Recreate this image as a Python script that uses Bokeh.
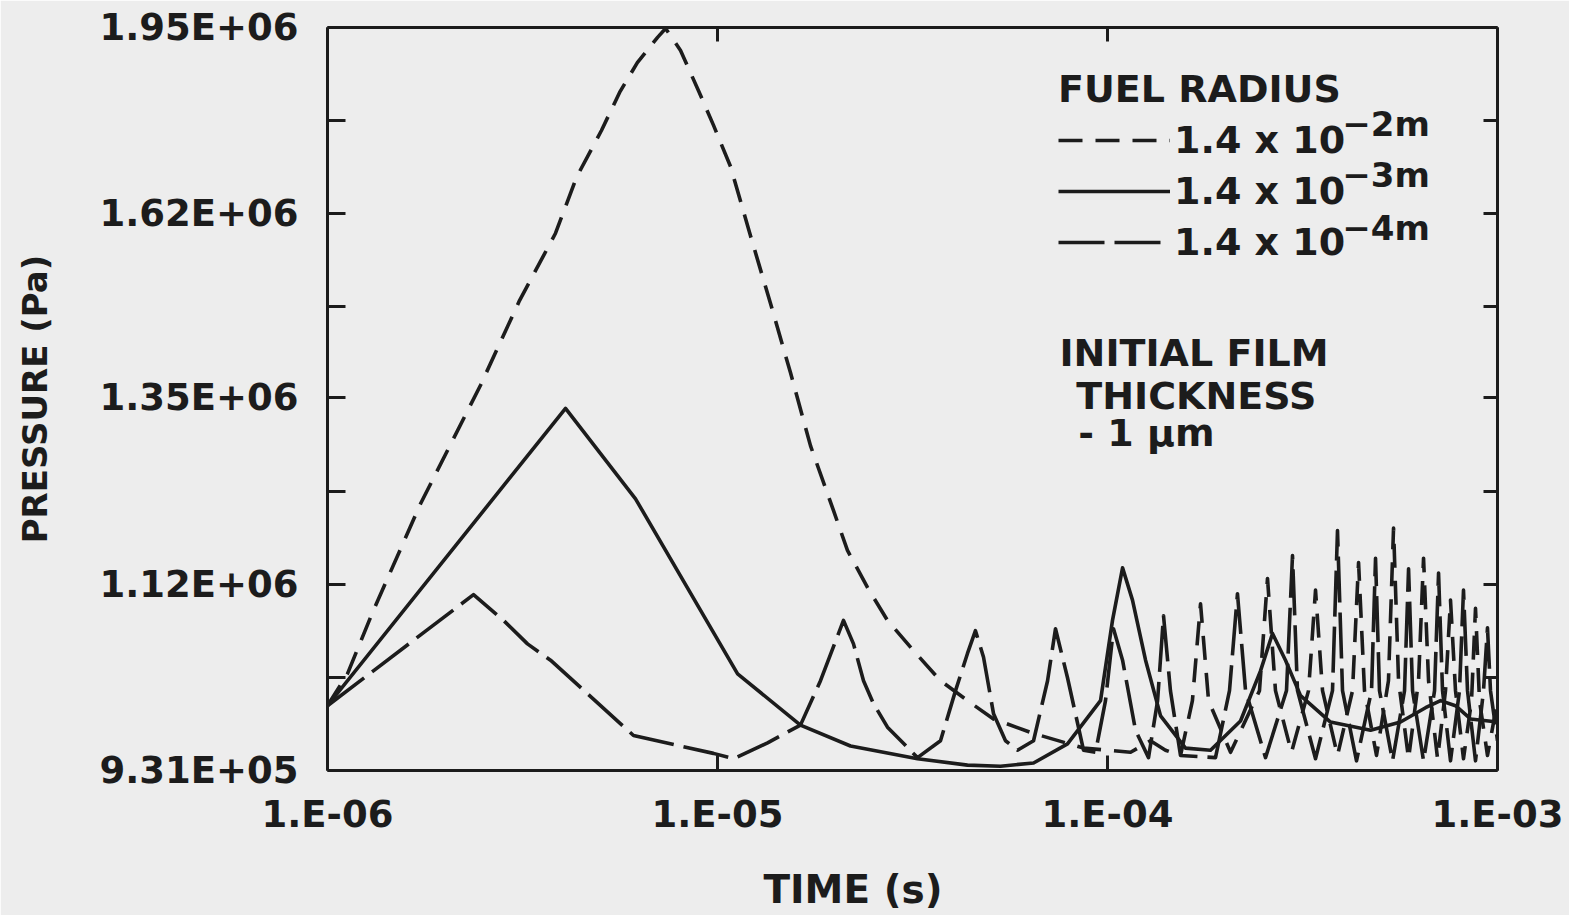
from bokeh.plotting import figure
from bokeh.models import (LogAxis, FixedTicker, Legend, LegendItem, Label, Range1d, Title)
from bokeh.embed import file_html
from bokeh.resources import INLINE

# Film pressure histories, time in s and pressure in Pa, one pair per fuel radius
time_r2 = [1.0e-6, 1.125e-6, 1.312e-6, 1.732e-6, 2.468e-6, 3.107e-6, 3.843e-6, 4.35e-6,
           5.04e-6, 5.61e-6, 6.23e-6, 7.02e-6, 7.36e-6, 8.04e-6, 8.94e-6, 9.77e-6,
           1.080e-5, 1.215e-5, 1.367e-5, 1.539e-5, 1.732e-5, 1.983e-5, 2.154e-5, 2.424e-5,
           2.728e-5, 3.181e-5, 3.73e-5, 4.375e-5, 5.10e-5, 6.46e-5, 8.68e-5, 1.146e-4,
           1.289e-4, 1.408e-4, 1.539e-4, 1.651e-4, 1.732e-4, 1.816e-4, 2.068e-4, 2.453e-4,
           2.572e-4, 2.696e-4, 2.963e-4, 3.277e-4, 3.415e-4, 3.559e-4, 3.888e-4, 4.249e-4,
           4.403e-4, 4.560e-4, 4.895e-4, 5.253e-4, 5.413e-4, 5.575e-4, 5.915e-4, 6.274e-4,
           6.462e-4, 6.656e-4, 7.019e-4, 7.357e-4, 7.577e-4, 7.804e-4, 8.181e-4, 8.578e-4,
           8.782e-4, 8.992e-4, 9.426e-4, 1.0e-3]
pres_r2 = [9.93e5, 1.025e6, 1.092e6, 1.214e6, 1.366e6, 1.486e6, 1.589e6, 1.680e6,
           1.760e6, 1.828e6, 1.883e6, 1.931e6, 1.948e6, 1.906e6, 1.831e6, 1.769e6,
           1.698e6, 1.585e6, 1.482e6, 1.383e6, 1.286e6, 1.206e6, 1.159e6, 1.117e6,
           1.081e6, 1.049e6, 1.018e6, 9.98e5, 9.80e5, 9.66e5, 9.52e5, 9.48e5,
           9.59e5, 9.50e5, 9.45e5, 9.98e5, 1.099e6, 9.98e5, 9.48e5, 1.008e6,
           1.127e6, 1.008e6, 9.48e5, 1.008e6, 1.114e6, 1.008e6, 9.45e5, 1.008e6,
           1.145e6, 1.008e6, 9.45e5, 1.018e6, 1.185e6, 1.018e6, 9.42e5, 1.018e6,
           1.150e6, 1.018e6, 9.42e5, 1.008e6, 1.103e6, 1.008e6, 9.42e5, 9.98e5,
           1.094e6, 9.98e5, 9.45e5, 9.98e5]

time_r3 = [1.0e-6, 4.077e-6, 6.163e-6, 1.126e-5, 1.632e-5, 2.193e-5, 3.257e-5, 4.375e-5,
           5.317e-5, 6.462e-5, 7.897e-5, 9.596e-5, 1.030e-4, 1.093e-4, 1.159e-4, 1.252e-4,
           1.368e-4, 1.585e-4, 1.837e-4, 2.193e-4, 2.468e-4, 2.649e-4, 2.860e-4, 3.126e-4,
           3.731e-4, 4.726e-4, 5.641e-4, 6.539e-4, 7.144e-4, 7.804e-4, 8.527e-4, 1.0e-3]
pres_r3 = [9.93e5, 1.335e6, 1.220e6, 1.025e6, 9.74e5, 9.54e5, 9.42e5, 9.36e5,
           9.35e5, 9.38e5, 9.56e5, 9.98e5, 1.081e6, 1.139e6, 1.103e6, 1.039e6,
           9.83e5, 9.52e5, 9.50e5, 9.78e5, 1.028e6, 1.067e6, 1.039e6, 1.003e6,
           9.77e5, 9.69e5, 9.77e5, 9.91e5, 9.98e5, 9.93e5, 9.80e5, 9.77e5]

time_r4 = [1.0e-6, 2.368e-6, 2.827e-6, 3.257e-6, 3.731e-6, 6.090e-6, 9.766e-6, 1.099e-5,
           1.344e-5, 1.632e-5, 1.837e-5, 2.104e-5, 2.232e-5, 2.368e-5, 2.512e-5, 2.728e-5,
           3.257e-5, 3.731e-5, 4.077e-5, 4.375e-5, 4.586e-5, 4.810e-5, 5.103e-5, 5.476e-5,
           5.877e-5, 6.462e-5, 7.020e-5, 7.356e-5, 7.897e-5, 8.680e-5, 9.317e-5, 9.883e-5,
           1.036e-4, 1.093e-4, 1.180e-4, 1.274e-4, 1.344e-4, 1.392e-4, 1.450e-4, 1.539e-4,
           1.892e-4, 2.055e-4, 2.154e-4, 2.259e-4, 2.542e-4, 2.877e-4, 2.981e-4, 3.070e-4,
           3.415e-4, 3.775e-4, 3.888e-4, 4.005e-4, 4.350e-4, 4.754e-4, 4.867e-4, 4.982e-4,
           5.381e-4, 5.776e-4, 5.915e-4, 6.056e-4, 6.462e-4, 6.896e-4, 7.061e-4, 7.228e-4,
           7.577e-4, 7.990e-4, 8.181e-4, 8.377e-4, 8.782e-4, 9.208e-4, 9.426e-4, 9.595e-4,
           1.0e-3]
pres_r4 = [9.93e5, 1.109e6, 1.081e6, 1.056e6, 1.039e6, 9.64e5, 9.47e5, 9.42e5,
           9.57e5, 9.74e5, 1.018e6, 1.081e6, 1.056e6, 1.018e6, 9.95e5, 9.72e5,
           9.43e5, 9.59e5, 1.008e6, 1.046e6, 1.070e6, 1.042e6, 9.85e5, 9.59e5,
           9.50e5, 9.59e5, 1.018e6, 1.072e6, 1.021e6, 9.50e5, 9.48e5, 9.98e5,
           1.072e6, 1.039e6, 9.69e5, 9.43e5, 9.98e5, 1.086e6, 1.008e6, 9.45e5,
           9.43e5, 1.008e6, 1.110e6, 1.008e6, 9.43e5, 1.008e6, 1.153e6, 1.008e6,
           9.42e5, 1.008e6, 1.182e6, 1.008e6, 9.40e5, 1.008e6, 1.150e6, 1.008e6,
           9.40e5, 1.008e6, 1.138e6, 1.008e6, 9.40e5, 1.008e6, 1.133e6, 1.008e6,
           9.40e5, 1.008e6, 1.114e6, 1.008e6, 9.40e5, 1.008e6, 1.073e6, 1.008e6,
           9.59e5]

x_ticks = [1e-6, 1e-5, 1e-4, 1e-3]
x_tick_labels = ["1.E-06", "1.E-05", "1.E-04", "1.E-03"]
y_ticks = [9.31e5, 1.12e6, 1.35e6, 1.62e6, 1.95e6]
y_tick_labels = ["9.31E+05", "1.12E+06", "1.35E+06", "1.62E+06", "1.95E+06"]
y_minor_ticks = [1.021e6, 1.229e6, 1.478e6, 1.778e6]

radius_labels = ["1.4 x 10", "1.4 x 10", "1.4 x 10"]
radius_exponents = ["\u22122m", "\u22123m", "\u22124m"]

INK = "#1c1c1c"
BG = "#ededed"
FONT = "DejaVu Sans"
LW = 3.6

p = figure(x_axis_type="log", y_axis_type="log",
           x_range=Range1d(1e-6, 1e-3), y_range=Range1d(9.31e5, 1.95e6),
           frame_width=1170, frame_height=743,
           min_border_left=327, min_border_right=72,
           min_border_top=27, min_border_bottom=145,
           output_backend="svg", toolbar_location=None,
           background_fill_color=BG, border_fill_color=BG,
           outline_line_color=None)
p.grid.visible = False


def style_axis(ax, ticks, minor, labels, tick_len, show_labels=True):
    ax.ticker = FixedTicker(ticks=ticks, minor_ticks=minor)
    if show_labels:
        ax.major_label_overrides = {t: s for t, s in zip(ticks, labels)}
    else:
        ax.major_label_overrides = {t: "" for t in ticks}
    ax.axis_line_width = 3
    ax.axis_line_color = INK
    ax.major_tick_line_width = 3
    ax.major_tick_line_color = INK
    ax.minor_tick_line_width = 3
    ax.minor_tick_line_color = INK
    ax.major_tick_in = tick_len
    ax.major_tick_out = 0
    ax.minor_tick_in = tick_len
    ax.minor_tick_out = 0
    ax.major_label_text_font = FONT
    ax.major_label_text_font_style = "bold"
    ax.major_label_text_font_size = "37px"
    ax.major_label_text_color = INK


xb = p.xaxis[0]
style_axis(xb, x_ticks, [], x_tick_labels, 15)
xb.major_label_standoff = 22

yl = p.yaxis[0]
style_axis(yl, y_ticks, y_minor_ticks, y_tick_labels, 18)
yl.major_label_standoff = 29
yl.axis_label = "PRESSURE (Pa)"
yl.axis_label_text_font = FONT
yl.axis_label_text_font_style = "bold"
yl.axis_label_text_font_size = "34px"
yl.axis_label_text_color = INK
yl.axis_label_standoff = 41

yr = LogAxis()
style_axis(yr, y_ticks, y_minor_ticks, y_tick_labels, 14, show_labels=False)
p.add_layout(yr, "right")

xt = LogAxis()
style_axis(xt, x_ticks, [], x_tick_labels, 14, show_labels=False)
p.add_layout(xt, "above")

# time axis title, set left of the frame centre
p.add_layout(Title(text="TIME (s)", align="left", offset=436, standoff=53,
                   text_font=FONT, text_font_style="bold", text_font_size="39px",
                   text_color=INK), "below")

# pressure curves
r2 = p.line(time_r2, pres_r2, line_color=INK, line_width=LW, line_dash="24 13",
            line_join="round")
r3 = p.line(time_r3, pres_r3, line_color=INK, line_width=LW, line_join="round")
r4 = p.line(time_r4, pres_r4, line_color=INK, line_width=LW, line_dash="46 10",
            line_join="round")

legend = Legend(
    items=[LegendItem(label=radius_labels[0], renderers=[r2]),
           LegendItem(label=radius_labels[1], renderers=[r3]),
           LegendItem(label=radius_labels[2], renderers=[r4])],
    location=(731, 506),
    title="FUEL RADIUS",
    title_text_font=FONT, title_text_font_style="bold",
    title_text_font_size="38px", title_text_color=INK, title_standoff=7,
    label_text_font=FONT, label_text_font_style="bold",
    label_text_font_size="38px", label_text_color=INK,
    glyph_width=112, glyph_height=40, label_standoff=4, spacing=7,
    padding=0, margin=0, background_fill_alpha=0, border_line_alpha=0,
)
p.add_layout(legend)

# exponents of the radius labels
exp_x = 4.0e-4
exp_y = [1.772e6, 1.683e6, 1.598e6]
for txt, yy in zip(radius_exponents, exp_y):
    p.add_layout(Label(x=exp_x, y=yy, text=txt, text_font=FONT,
                       text_font_style="bold", text_font_size="34px",
                       text_color=INK, text_baseline="alphabetic"))

notes = [("INITIAL FILM", 7.53e-5, 1.411e6),
         ("THICKNESS", 8.32e-5, 1.352e6),
         ("- 1 \u03bcm", 8.42e-5, 1.303e6)]
for txt, xx, yy in notes:
    p.add_layout(Label(x=xx, y=yy, text=txt, text_font=FONT,
                       text_font_style="bold", text_font_size="38px",
                       text_color=INK, text_baseline="alphabetic"))

open("out.html", "w").write(file_html(p, INLINE))
